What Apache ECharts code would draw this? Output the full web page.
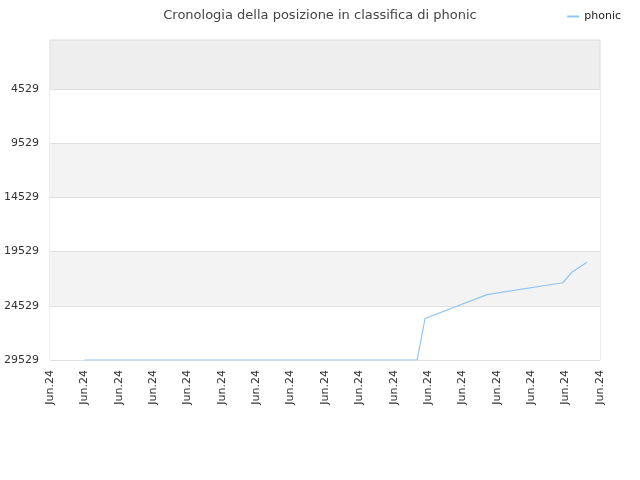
<!DOCTYPE html>
<html>
<head>
<meta charset="utf-8">
<script src="https://cdn.jsdelivr.net/npm/echarts@6/dist/echarts.min.js"></script>
<style>
  html, body { margin: 0; padding: 0; background: #fff; }
  #chart { width: 640px; height: 480px; }
</style>
</head>
<body>
<div id="chart"></div>
<script>
// etichette asse x (una per giorno)
const xLabels = ['Jun.24', 'Jun.24', 'Jun.24', 'Jun.24', 'Jun.24', 'Jun.24', 'Jun.24', 'Jun.24', 'Jun.24',
  'Jun.24', 'Jun.24', 'Jun.24', 'Jun.24', 'Jun.24', 'Jun.24', 'Jun.24', 'Jun.24'];
// posizione dei punti (in giorni) e posizione in classifica
const days = [1, 10.68, 10.91, 12.71, 14.92, 15.19, 15.62];
const ranks = [29529, 29529, 25700, 23500, 22400, 21400, 20500];
const yTicks = [4529, 9529, 14529, 19529, 24529, 29529];

const chart = echarts.init(document.getElementById('chart'));
chart.setOption({
  animation: false,
  title: {
    text: 'Cronologia della posizione in classifica di phonic',
    left: 'center',
    top: 4,
    textStyle: { fontSize: 13, fontWeight: 'normal', color: '#444', fontFamily: 'DejaVu Sans' }
  },
  legend: {
    right: 14,
    top: 6,
    itemWidth: 12,
    itemHeight: 2,
    textStyle: { fontSize: 11, color: '#222', fontFamily: 'DejaVu Sans' },
    data: [{ name: 'phonic', icon: 'rect' }]
  },
  grid: {
    left: 50, right: 40, top: 40, bottom: 120,
    show: true,
    backgroundColor: '#eeeeee',
    borderColor: '#dddddd',
    borderWidth: 1
  },
  xAxis: {
    type: 'value',
    min: 0,
    max: xLabels.length - 1,
    interval: 1,
    axisLine: { show: false },
    axisTick: { show: false },
    splitLine: { show: false },
    axisLabel: {
      rotate: 90,
      fontSize: 11,
      color: '#333',
      fontFamily: 'DejaVu Sans',
      margin: 10,
      formatter: (v) => xLabels[Math.round(v)] || ''
    }
  },
  yAxis: {
    type: 'value',
    inverse: true,
    min: 0,
    max: 29529,
    axisLine: { show: false },
    axisTick: { show: false, customValues: yTicks },
    axisLabel: {
      customValues: yTicks,
      fontSize: 11,
      color: '#333',
      fontFamily: 'DejaVu Sans',
      margin: 11,
      formatter: (v) => String(v)
    },
    splitLine: { show: true, lineStyle: { color: '#e0e0e0' } },
    splitArea: {
      show: true,
      areaStyle: { color: ['#ffffff', '#f3f3f3'] }
    }
  },
  series: [{
    name: 'phonic',
    type: 'line',
    data: days.map((d, i) => [d, ranks[i]]),
    showSymbol: false,
    lineStyle: { color: '#90c4f4', width: 1.2 },
    itemStyle: { color: '#90c4f4' }
  }]
});
</script>
</body>
</html>
